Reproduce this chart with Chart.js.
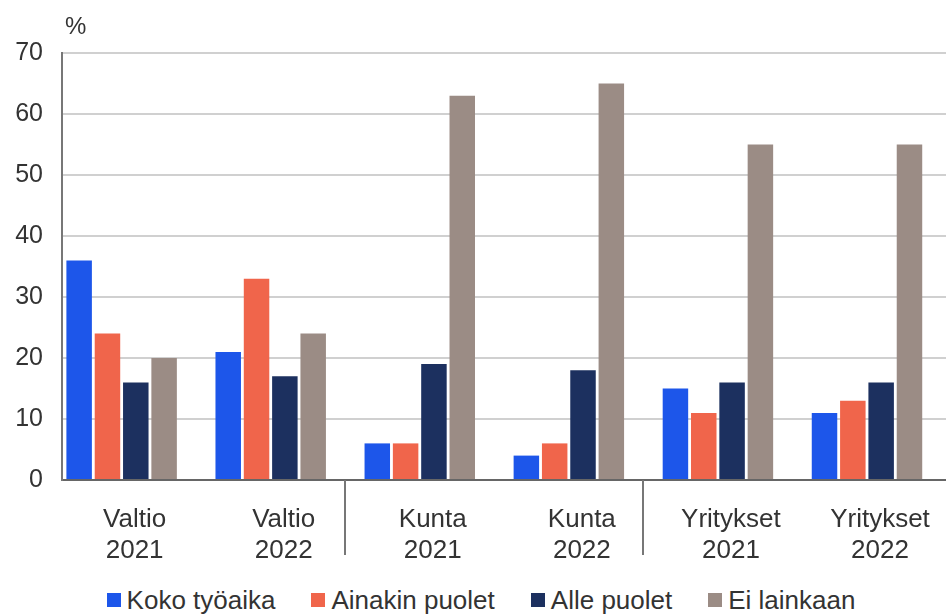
<!DOCTYPE html>
<html><head><meta charset="utf-8">
<script src="https://cdn.jsdelivr.net/npm/chart.js@4.4.1/dist/chart.umd.min.js"></script>
<style>
html,body{margin:0;padding:0;background:#fff;}
#wrap{position:relative;width:946px;height:615px;overflow:hidden;}
#c{position:absolute;left:0;top:0;}
#legend{position:absolute;left:0;top:586px;width:946px;display:flex;justify-content:center;padding-left:16px;box-sizing:border-box;font:26px 'Liberation Sans',Arial,sans-serif;color:#333;line-height:28px;}
.item{display:flex;align-items:center;margin-right:36px;white-space:nowrap}
.item:last-child{margin-right:0}
.sw{width:14px;height:14px;margin-right:6px;flex:none}
</style></head>
<body>
<div id="wrap">
<canvas id="c" width="946" height="580"></canvas>
<div id="legend"></div>
</div>
<script>
const categories = ['Valtio 2021', 'Valtio 2022', 'Kunta 2021', 'Kunta 2022', 'Yritykset 2021', 'Yritykset 2022'];
const seriesNames = ['Koko työaika', 'Ainakin puolet', 'Alle puolet', 'Ei lainkaan'];
const kokoTyoaika    = [36, 21, 6, 4, 15, 11];
const ainakinPuolet  = [24, 33, 6, 6, 11, 13];
const allePuolet     = [16, 17, 19, 18, 16, 16];
const eiLainkaan     = [20, 24, 63, 65, 55, 55];
const yTicks = [0, 10, 20, 30, 40, 50, 60, 70];
const groupBreaks = [1.5, 3.5];
const unitLabel = '%';

const colors = ['#1d56ea', '#f0654b', '#1c305f', '#9b8c85'];
const seriesValues = [kokoTyoaika, ainakinPuolet, allePuolet, eiLainkaan];
const FONT = "'Liberation Sans', Arial, sans-serif";
const TEXT = '#333333';

const datasets = seriesNames.map((name, s) => ({
  label: name,
  data: seriesValues[s].map((v, i) => ({x: i, y: v})),
  backgroundColor: colors[s],
  borderWidth: 0,
  categoryPercentage: 0.76,
  barPercentage: 0.9
}));

const extras = {
  id: 'extras',
  afterDraw(chart) {
    const ctx = chart.ctx;
    const xs = chart.scales.x, ca = chart.chartArea;
    ctx.save();
    ctx.strokeStyle = '#777777';
    ctx.lineWidth = 2;
    groupBreaks.forEach(b => {
      const px = Math.round(xs.getPixelForValue(b));
      ctx.beginPath();
      ctx.moveTo(px, ca.bottom);
      ctx.lineTo(px, ca.bottom + 75);
      ctx.stroke();
    });
    ctx.fillStyle = TEXT;
    ctx.font = '24px ' + FONT;
    ctx.textAlign = 'left';
    ctx.textBaseline = 'middle';
    ctx.fillText(unitLabel, ca.left + 3, ca.top - 26);
    ctx.restore();
  }
};

new Chart(document.getElementById('c'), {
  type: 'bar',
  data: { datasets },
  options: {
    responsive: false,
    animation: false,
    layout: { padding: { top: 53, left: 15, right: 0, bottom: 0 } },
    plugins: { legend: { display: false }, tooltip: { enabled: false } },
    scales: {
      x: {
        type: 'linear',
        min: -0.4,
        max: 5.53,
        offset: false,
        grid: { display: false, offset: false },
        border: { display: true, color: '#666666', width: 2 },
        afterBuildTicks(axis) { axis.ticks = categories.map((_, i) => ({ value: i })); },
        afterFit(axis) { axis.height = 100; },
        ticks: {
          autoSkip: false,
          maxRotation: 0,
          padding: 16,
          labelOffset: 13,
          color: TEXT,
          font: { family: FONT, size: 26 },
          callback: (value, index) => categories[index] ? categories[index].split(' ') : ''
        }
      },
      y: {
        min: 0,
        max: 70,
        afterBuildTicks(axis) { axis.ticks = yTicks.map(v => ({ value: v })); },
        afterFit(axis) { axis.width = 47; },
        grid: { color: '#d0d0d0', lineWidth: 2, drawTicks: false },
        border: { display: true, color: '#777777', width: 2 },
        ticks: {
          padding: 19,
          color: TEXT,
          font: { family: FONT, size: 25 }
        }
      }
    }
  },
  plugins: [extras]
});

const legend = document.getElementById('legend');
seriesNames.forEach((name, s) => {
  const it = document.createElement('div');
  it.className = 'item';
  const sw = document.createElement('span');
  sw.className = 'sw';
  sw.style.background = colors[s];
  const tx = document.createElement('span');
  tx.textContent = name;
  it.appendChild(sw); it.appendChild(tx);
  legend.appendChild(it);
});
</script>
</body></html>
